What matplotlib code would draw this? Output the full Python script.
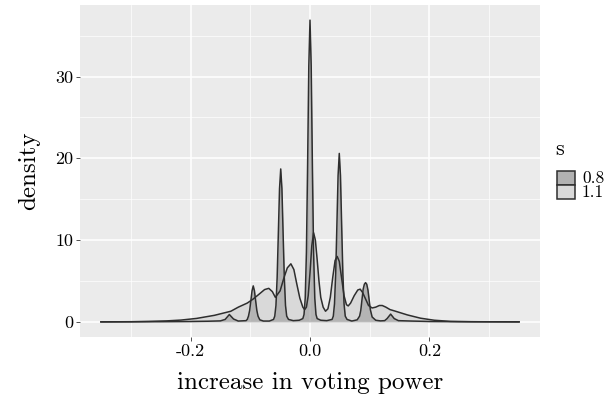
import matplotlib
matplotlib.use("Agg")
import matplotlib.pyplot as plt
from matplotlib.patches import Rectangle

# значения плотности (s = 0.8, узкие пики)
x_08 = [-0.35, -0.30, -0.25, -0.20, -0.17, -0.15, -0.142, -0.135, -0.128, -0.12,
        -0.107, -0.105, -0.103, -0.101, -0.099, -0.097, -0.095, -0.093, -0.091, -0.089,
        -0.087, -0.084, -0.078, -0.068, -0.061, -0.059, -0.057, -0.055, -0.053, -0.051,
        -0.049, -0.047, -0.045, -0.043, -0.041, -0.039, -0.036, -0.028, -0.018, -0.012,
        -0.010, -0.008, -0.006, -0.004, -0.002, 0.0, 0.002, 0.004, 0.006, 0.008,
        0.010, 0.012, 0.018, 0.028, 0.037, 0.039, 0.041, 0.043, 0.045, 0.047,
        0.049, 0.051, 0.053, 0.055, 0.057, 0.059, 0.062, 0.070, 0.079, 0.083,
        0.085, 0.087, 0.089, 0.091, 0.093, 0.095, 0.097, 0.099, 0.101, 0.104,
        0.110, 0.118, 0.125, 0.129, 0.135, 0.141, 0.148, 0.17, 0.20, 0.25,
        0.30, 0.35]
y_08 = [0.0, 0.01, 0.02, 0.05, 0.08, 0.12, 0.3, 0.9, 0.35, 0.1,
        0.15, 0.3, 0.7, 1.4, 2.6, 3.8, 4.4, 3.8, 2.6, 1.4,
        0.7, 0.25, 0.1, 0.1, 0.3, 0.7, 2.0, 5.4, 10.8, 16.3,
        18.7, 16.3, 10.8, 5.4, 2.0, 0.7, 0.3, 0.15, 0.2, 0.4,
        0.9, 2.9, 8.5, 19.2, 31.3, 36.9, 31.3, 19.2, 8.5, 2.9,
        0.9, 0.4, 0.2, 0.15, 0.3, 0.7, 2.2, 5.9, 11.8, 17.9,
        20.6, 17.9, 11.8, 5.9, 2.2, 0.7, 0.3, 0.1, 0.25, 0.7,
        1.4, 2.7, 4.0, 4.6, 4.8, 4.6, 3.9, 2.7, 1.5, 0.6,
        0.2, 0.12, 0.15, 0.4, 0.95, 0.4, 0.15, 0.1, 0.05, 0.02,
        0.01, 0.0]

# s = 1.1, более гладкая кривая
x_11 = [-0.35, -0.30, -0.27, -0.24, -0.216, -0.19, -0.16, -0.1325, -0.12, -0.105,
        -0.095, -0.085, -0.076, -0.069, -0.063, -0.058, -0.050, -0.044, -0.038, -0.032,
        -0.027, -0.022, -0.017, -0.012, -0.009, -0.006, -0.003, 0.0, 0.003, 0.006,
        0.009, 0.012, 0.015, 0.018, 0.022, 0.026, 0.030, 0.034, 0.038, 0.042,
        0.0455, 0.049, 0.053, 0.057, 0.061, 0.064, 0.068, 0.074, 0.080, 0.084,
        0.088, 0.093, 0.098, 0.104, 0.110, 0.116, 0.121, 0.127, 0.134, 0.141,
        0.152, 0.163, 0.185, 0.208, 0.235, 0.27, 0.30, 0.35]
y_11 = [0.0, 0.02, 0.06, 0.12, 0.22, 0.42, 0.8, 1.3, 1.8, 2.3,
        2.8, 3.4, 3.95, 4.1, 3.7, 3.0, 3.8, 5.3, 6.6, 7.1,
        6.4, 4.6, 2.9, 1.8, 1.5, 1.8, 3.2, 6.0, 9.3, 10.9,
        10.0, 7.6, 5.0, 3.0, 1.8, 1.3, 1.6, 3.0, 5.4, 7.5,
        8.0, 7.4, 5.3, 3.2, 2.1, 1.95, 2.3, 3.2, 3.9, 4.0,
        3.6, 2.8, 2.0, 1.7, 1.8, 2.0, 2.0, 1.8, 1.5, 1.35,
        1.1, 0.85, 0.45, 0.2, 0.06, 0.02, 0.01, 0.0]

x_ticks = [-0.2, 0.0, 0.2]
x_labels = ["-0.2", "0.0", "0.2"]
y_ticks = [0, 10, 20, 30]
legend_labels = ["0.8", "1.1"]

plt.rcParams["font.family"] = ["cmr10", "DejaVu Serif"]

fill_08 = (0.33, 0.33, 0.33, 0.38)
fill_11 = (0.73, 0.73, 0.73, 0.35)
line_col = "#2e2e2e"

fig = plt.figure(figsize=(6.12, 4.01), dpi=100)
ax = fig.add_axes([80 / 612, 1 - 337 / 401, 460 / 612, 332 / 401])
ax.set_facecolor("#ebebeb")

ax.fill_between(x_08, y_08, 0, color=fill_08, linewidth=0)
ax.plot(x_08, y_08, color=line_col, linewidth=1.1)
ax.fill_between(x_11, y_11, 0, color=fill_11, linewidth=0)
ax.plot(x_11, y_11, color=line_col, linewidth=1.1)

ax.set_xlim(-0.385, 0.385)
ax.set_ylim(-1.85, 38.75)

# сетка в стиле ggplot
ax.set_xticks(x_ticks)
ax.set_xticklabels(x_labels)
ax.set_yticks(y_ticks)
ax.set_xticks([-0.3, -0.1, 0.1, 0.3], minor=True)
ax.set_yticks([5, 15, 25, 35], minor=True)
ax.grid(True, which="major", color="white", linewidth=1.1)
ax.grid(True, which="minor", color="white", linewidth=0.5)
ax.set_axisbelow(True)
for sp in ax.spines.values():
    sp.set_visible(False)
ax.tick_params(which="major", length=3, width=0.6, color="#333333", labelsize=13, pad=2)
ax.tick_params(which="minor", length=0)

ax.set_xlabel("increase in voting power", fontsize=18, labelpad=9)
ax.set_ylabel("density", fontsize=18, labelpad=11)

# легенда
fig.text(555 / 612, 1 - 149 / 401, "s", fontsize=16, va="center", ha="left")
key_cols = [fill_08, fill_11]
for i, lab in enumerate(legend_labels):
    top = 171 + 14 * i
    fig.add_artist(Rectangle((557 / 612, 1 - (top + 14) / 401), 18 / 612, 14 / 401,
                             transform=fig.transFigure, facecolor="#ebebeb", edgecolor="none"))
    fig.add_artist(Rectangle((557 / 612, 1 - (top + 14) / 401), 18 / 612, 14 / 401,
                             transform=fig.transFigure, facecolor=key_cols[i],
                             edgecolor=line_col, linewidth=1.1))
    fig.text(582 / 612, 1 - (top + 7.5) / 401, lab, fontsize=12.5, va="center", ha="left")

plt.savefig("out.png", dpi=100)
